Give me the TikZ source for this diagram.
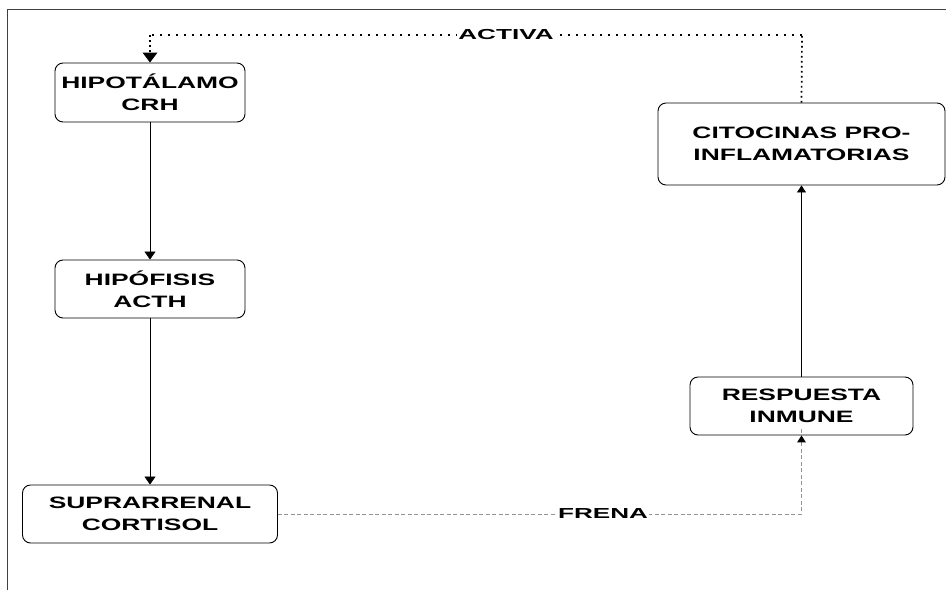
\documentclass[tikz,border=0pt]{standalone}
\usepackage{fontspec}
\usepackage{graphicx}
\setmainfont{Liberation Sans}
\newcommand\widebox[1]{\scalebox{1.6}[1]{#1}}
\newcommand\widelbl[1]{\scalebox{1.8}[1]{#1}}
\usetikzlibrary{arrows.meta}
\begin{document}
\begin{tikzpicture}[x=1pt,y=-1pt,
  stage/.style={draw=black,line width=0.9pt,rounded corners=8pt,align=center,
    inner sep=0pt,font=\bfseries\fontsize{16.5}{22}\selectfont},
  lbl/.style={fill=white,inner sep=1pt,font=\bfseries\fontsize{14.5}{16}\selectfont},
  solidarrow/.style={draw=black,line width=0.7pt,-{Triangle[length=8pt,width=11pt]}},
  dotline/.style={draw=black,line width=1.7pt},
  dashline/.style={draw=black!42,line width=0.8pt,dash pattern=on 4pt off 2.5pt}
]
\useasboundingbox (0,0) rectangle (946,590);
% frame
\draw[black!75,line width=1pt] (7,590) -- (7,9.5) -- (946,9.5);

\node[stage,minimum width=190pt,minimum height=59pt] (hyp) at (150,92.5) {\widebox{HIPOTÁLAMO}\\\widebox{CRH}};
\node[stage,minimum width=190pt,minimum height=58pt] (hipo) at (150,289) {\widebox{HIPÓFISIS}\\\widebox{ACTH}};
\node[stage,minimum width=255pt,minimum height=58pt] (supra) at (150,514) {\widebox{SUPRARRENAL}\\\widebox{CORTISOL}};
\node[stage,minimum width=287pt,minimum height=82pt] (cito) at (801.5,144) {\widebox{CITOCINAS PRO-}\\\widebox{INFLAMATORIAS}};
\node[stage,minimum width=223pt,minimum height=58pt] (resp) at (801.5,406) {\widebox{RESPUESTA}\\\widebox{INMUNE}};

\draw[solidarrow] (hyp) -- (hipo);
\draw[solidarrow] (hipo) -- (supra);
\draw[draw=black,line width=0.7pt,-{Triangle[length=7pt,width=9pt]}] (resp) -- (cito);

% ACTIVA loop
\coordinate (actR) at (802,35);
\coordinate (actL) at (150,35);
\draw[dotline,dash pattern=on 1.7pt off 3.3pt] (cito.north) -- (actR);
\draw[dotline,dash pattern=on 1.7pt off 6.3pt] (actR) -- (actL);
\draw[dotline,dash pattern=on 1.7pt off 3.3pt,shorten >=9pt] (actL) -- (hyp.north);
\draw[draw=none,fill=black] (hyp.north) -- ++(-7.5,-10) -- ++(15,0) -- cycle;
\node[lbl] (activa) at (506,35) {\widelbl{ACTIVA}};

% FRENA loop
\coordinate (frR) at (801.5,514);
\draw[dashline] (supra.east) -- (frR) -- ([yshift=7pt]resp.south);
\draw[draw=none,fill=black] (resp.south) -- ++(-4.5,7) -- ++(9,0) -- cycle;
\node[lbl] (frena) at (603,514) {\widelbl{FRENA}};
\end{tikzpicture}
\end{document}
